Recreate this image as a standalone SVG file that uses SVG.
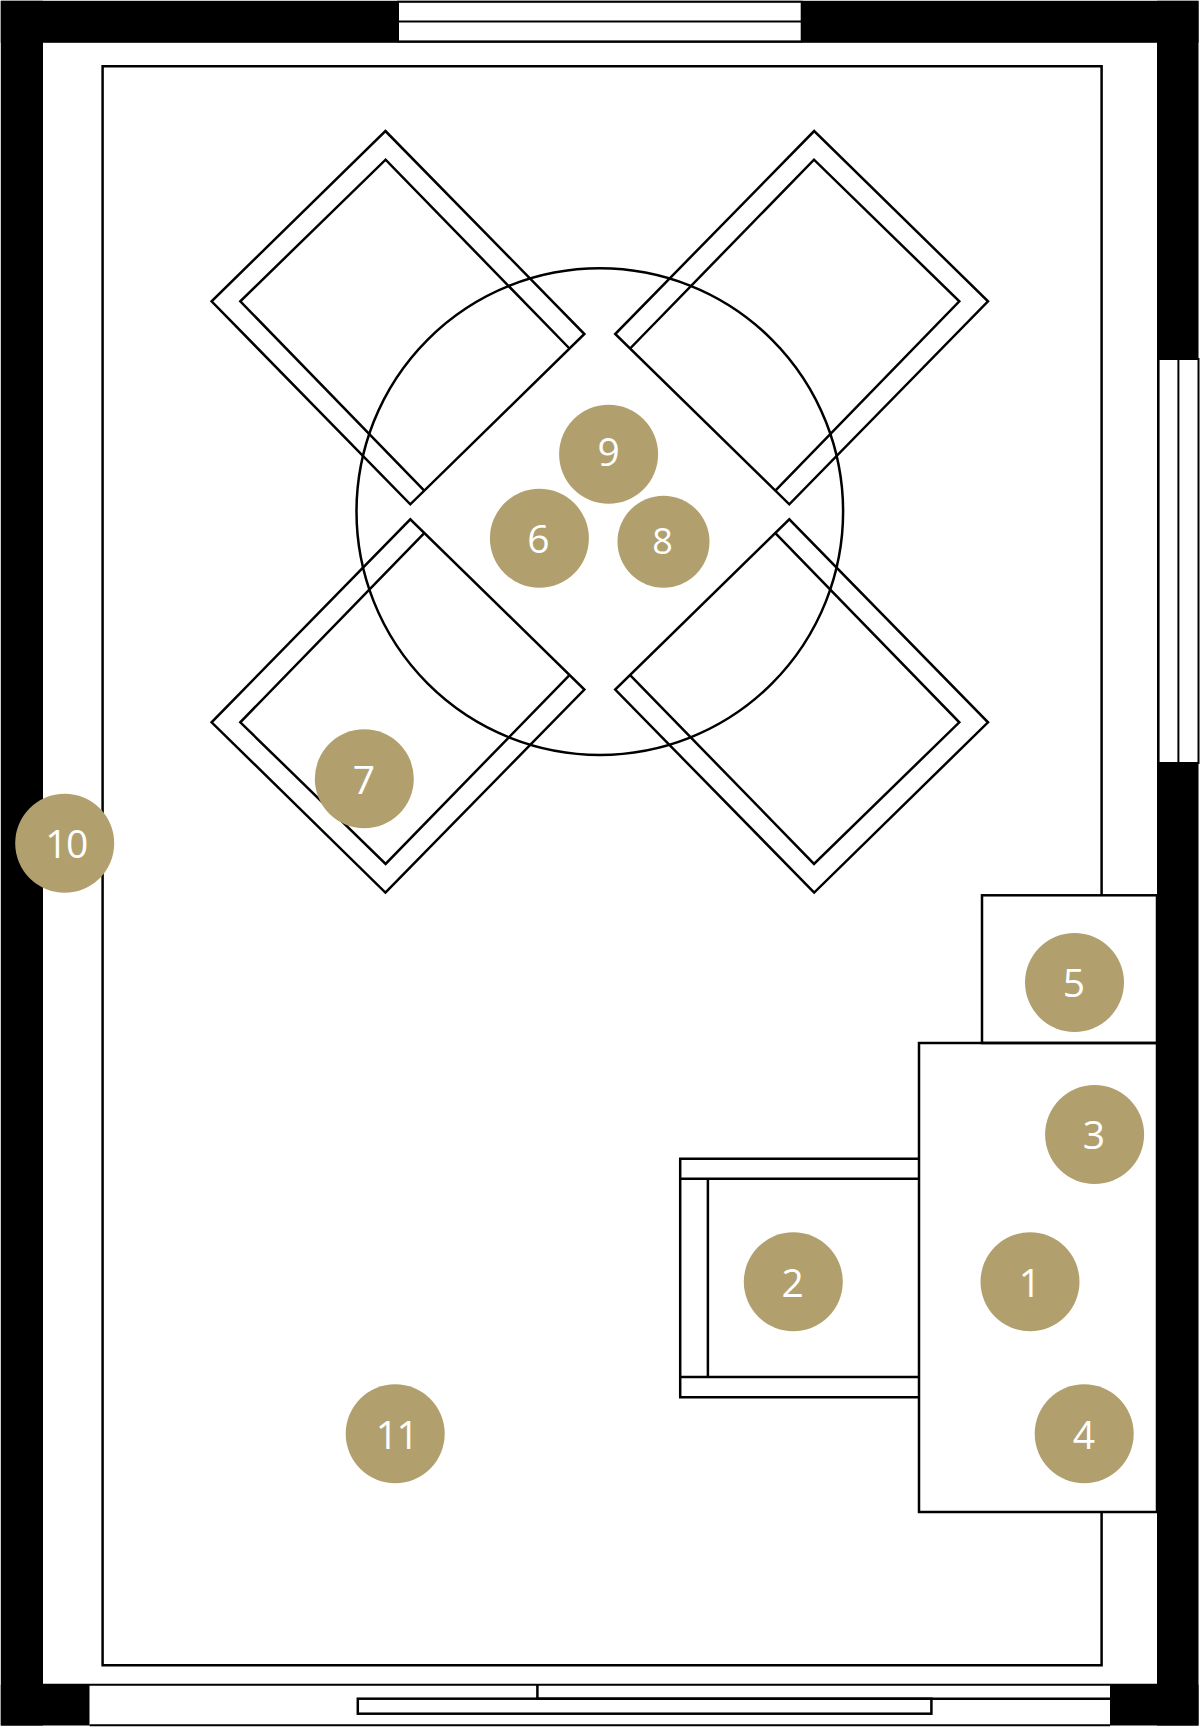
<svg xmlns="http://www.w3.org/2000/svg" width="1200" height="1727" viewBox="0 0 1200 1727">
<style>
.w{fill:#000}
.l{fill:none;stroke:#000;stroke-width:2.5}
.o{fill:#fff;stroke:#000;stroke-width:2}
.b{fill:#b1a06e}
.t{fill:#fff;font-family:"Open Sans","Noto Sans",sans-serif;font-size:39px;text-anchor:middle}
</style>
<defs>
<g id="chair">
<path class="l" d="M385.4 131L584.4 334L410.3 504.3L211.6 301.3Z"/>
<path class="l" d="M569 348L385.6 159.7L240.3 301.3L424 490.3"/>
</g>
</defs>
<rect width="1200" height="1727" fill="#fff"/>
<g id="walls">
<rect class="w" x="0.8" y="0.8" width="42.2" height="1724.7"/>
<rect class="w" x="0.8" y="0.8" width="1197.7" height="42"/>
<rect class="w" x="1157" y="0.8" width="41.5" height="1724.7"/>
<rect x="43" y="1684.7" width="1114" height="40.8" fill="#fff"/>
<rect class="w" x="0.8" y="1684.7" width="88.7" height="40.8"/>
<rect class="w" x="1110" y="1684.7" width="88.5" height="40.8"/>
</g>
<g id="window-top">
<rect class="o" x="398" y="1.8" width="403.7" height="39.6"/>
<path class="o" d="M398 21.6H801.7"/>
</g>
<g id="window-right">
<rect class="o" x="1158.6" y="359" width="39.9" height="404"/>
<path class="o" d="M1178.4 359V763"/>
</g>
<g id="door-bottom">
<path class="o" d="M43 1684.7H1157" fill="none"/>
<path class="o" d="M89.5 1725.3H1110" fill="none"/>
<path class="l" d="M537.4 1684.7V1698.7H1110"/>
<rect class="l" x="357.8" y="1698.7" width="573.6" height="15"/>
</g>
<g id="rug">
<path class="l" d="M1101.6 895.3V66.3H102.6V1665.3H1101.6V1512"/>
</g>
<g id="table">
<circle class="l" cx="599.8" cy="511.6" r="243.3"/>
</g>
<g id="chair-nw"><use href="#chair"/></g>
<g id="chair-ne"><use href="#chair" transform="matrix(-1 0 0 1 1199.6 0)"/></g>
<g id="chair-sw"><use href="#chair" transform="matrix(1 0 0 -1 0 1023.6)"/></g>
<g id="chair-se"><use href="#chair" transform="matrix(-1 0 0 -1 1199.6 1023.6)"/></g>
<g id="sideboard">
<rect class="l" x="982" y="895.3" width="175" height="147.7"/>
</g>
<g id="sofa">
<rect class="l" x="919" y="1043" width="238" height="469"/>
</g>
<g id="armchair">
<path class="l" d="M919 1158.7H680.2V1397.3H919M680.2 1178.7H919M680.2 1377H919M707.9 1178.7V1377"/>
</g>
<g id="n1"><circle class="b" cx="1030" cy="1281.8" r="49.5"/><text class="t" x="1030" y="1297">1</text></g>
<g id="n2"><circle class="b" cx="793.3" cy="1281.8" r="49.5"/><text class="t" x="792.6" y="1297">2</text></g>
<g id="n3"><circle class="b" cx="1094.6" cy="1134.5" r="49.5"/><text class="t" x="1094" y="1149">3</text></g>
<g id="n4"><circle class="b" cx="1084.2" cy="1433.7" r="49.5"/><text class="t" x="1084" y="1448.5">4</text></g>
<g id="n5"><circle class="b" cx="1074.5" cy="982.4" r="49.5"/><text class="t" x="1074" y="997">5</text></g>
<g id="n6"><circle class="b" cx="539.4" cy="538.3" r="49.5"/><text class="t" x="538.5" y="553.3">6</text></g>
<g id="n7"><circle class="b" cx="364.3" cy="778.8" r="49.5"/><text class="t" x="364" y="793.8">7</text></g>
<g id="n8"><circle class="b" cx="663.5" cy="541.7" r="46"/><text class="t" x="662.5" y="553.6" style="font-size:36px">8</text></g>
<g id="n9"><circle class="b" cx="608.6" cy="454.3" r="49.5"/><text class="t" x="608.6" y="466">9</text></g>
<g id="n10"><circle class="b" cx="64.7" cy="843.3" r="49.5"/><text class="t" x="66" y="858" style="letter-spacing:-1.5px">10</text></g>
<g id="n11"><circle class="b" cx="395.2" cy="1433.7" r="49.5"/><text class="t" x="396.5" y="1448.5" style="letter-spacing:-1.5px">11</text></g>
</svg>
